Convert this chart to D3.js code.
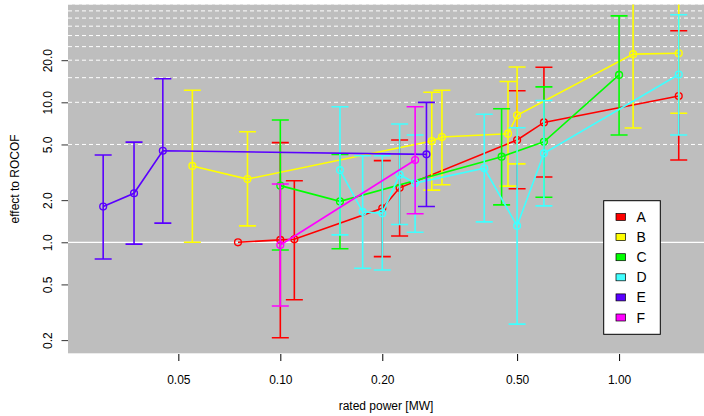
<!DOCTYPE html>
<html><head><meta charset="utf-8">
<script src="https://cdn.jsdelivr.net/npm/d3@7"></script>
<style>body{margin:0;background:#fff}svg{display:block}text{font-family:"Liberation Sans",Arial,Helvetica,sans-serif}</style>
</head><body><svg id="c" width="704" height="416"></svg>
<script>
const seriesNames = ["A","B","C","D","E","F"];
const seriesColors = ["#FF0000","#FFFF00","#00FF00","#40FFFF","#5A00FF","#FF00FF"];
// x = rated power, y = effect, lo/hi = error bar ends (null = none)
const xA = [0.075,0.10,0.11,0.20,0.225,0.50,0.60,1.50];
const yA = [1.00,1.04,1.05,1.75,2.45,5.38,7.19,11.1];
const loA = [null,0.208,0.389,0.79,1.11,2.41,2.93,3.87];
const hiA = [null,5.15,2.75,3.83,5.38,12.1,17.8,32.5];
const xB = [0.055,0.080,0.28,0.30,0.47,0.50,1.10,1.50];
const yB = [3.51,2.83,5.29,5.65,5.97,8.08,22.1,22.4];
const loB = [1.0,1.31,2.36,2.58,2.52,3.63,6.55,8.35];
const hiB = [12.2,6.17,11.8,12.2,14.1,17.9,80,80];
const xC = [0.10,0.15,0.45,0.60,1.00];
const yC = [2.54,1.96,4.09,5.23,15.7];
const loC = [0.88,0.90,1.85,2.10,5.84];
const hiC = [7.47,4.24,9.0,12.9,41.5];
const xD = [0.15,0.175,0.20,0.225,0.25,0.40,0.50,0.60,1.50];
const yD = [3.28,1.65,1.61,3.04,2.65,3.38,1.31,4.32,15.8];
const loD = [1.13,0.652,0.634,1.34,1.18,1.40,0.26,1.82,5.84];
const hiD = [9.30,4.15,4.15,7.0,5.84,8.21,6.59,10.3,42.2];
const xE = [0.030,0.037,0.045,0.27];
const yE = [1.80,2.24,4.51,4.25];
const loE = [0.76,0.97,1.37,1.80];
const hiE = [4.20,5.20,14.74,10.0];
const xF = [0.10,0.25];
const yF = [0.956,3.87];
const loF = [0.351,1.60];
const hiF = [2.61,9.30];
const xTicks = [0.05,0.10,0.20,0.50,1.00];
const yTicks = [0.2,0.5,1.0,2.0,5.0,10.0,20.0];
const gridDashed = [5,10,15,20,25,30,35,40,45,50];
const gridSolid = [1];

const seriesData = [
  [xA,yA,loA,hiA],[xB,yB,loB,hiB],[xC,yC,loC,hiC],
  [xD,yD,loD,hiD],[xE,yE,loE,hiE],[xF,yF,loF,hiF]
].map((s,i)=>({name:seriesNames[i],color:seriesColors[i],
  pts:s[0].map((x,j)=>({x,y:s[1][j],lo:s[2][j],hi:s[3][j]}))}));

const L=68,R=704,T=4.5,B=353.3;
const x = d3.scaleLog().domain([0.02362,1.781]).range([L,R]);
const y = d3.scaleLog().domain([0.161,50]).range([B,T]);
const svg = d3.select("#c");
svg.append("defs").append("clipPath").attr("id","clip")
  .append("rect").attr("x",L).attr("y",T).attr("width",R-L).attr("height",B-T);
svg.append("rect").attr("x",L).attr("y",T).attr("width",R-L).attr("height",B-T).attr("fill","#BEBEBE");

const grid = svg.append("g").attr("clip-path","url(#clip)");
grid.selectAll("line.d").data(gridDashed).join("line")
  .attr("x1",L).attr("x2",R).attr("y1",d=>y(d)).attr("y2",d=>y(d))
  .attr("stroke","#fff").attr("stroke-width",1).attr("stroke-dasharray","4,3");
grid.selectAll("line.s").data(gridSolid).join("line")
  .attr("x1",L).attr("x2",R).attr("y1",d=>y(d)).attr("y2",d=>y(d))
  .attr("stroke","#fff").attr("stroke-width",1.2);

// axes
const xAxis = d3.axisBottom(x).tickValues(xTicks).tickFormat(d3.format(".2f")).tickSize(7).tickPadding(14);
const gx = svg.append("g").attr("transform",`translate(0,${B+0.7})`).call(xAxis);
gx.select(".domain").remove();
gx.selectAll("text").attr("font-size",12).attr("fill","#000");
const yAxis = d3.axisLeft(y).tickValues(yTicks).tickFormat(d3.format(".1f")).tickSize(6.5).tickPadding(0);
const gy = svg.append("g").attr("transform",`translate(${L},0)`).call(yAxis);
gy.select(".domain").remove();
gy.selectAll("line").attr("stroke","#333");
gy.selectAll("text").attr("font-size",12).attr("fill","#000")
  .attr("text-anchor","middle").attr("dy",0).attr("x",0)
  .attr("transform","translate(-19,0) rotate(-90)").attr("dominant-baseline","middle");

svg.append("text").attr("x",(L+R)/2).attr("y",410).attr("text-anchor","middle")
  .attr("font-size",12).text("rated power [MW]");
svg.append("text").attr("transform",`translate(19,${(T+B)/2}) rotate(-90)`)
  .attr("text-anchor","middle").attr("font-size",12).text("effect to ROCOF");

const plot = svg.append("g").attr("clip-path","url(#clip)");
const line = d3.line().x(d=>x(d.x)).y(d=>y(d.y));
const cw = 8.5;
seriesData.forEach(s=>{
  const g = plot.append("g");
  const eb = s.pts.filter(p=>p.lo!=null);
  g.selectAll("line.v").data(eb).join("line")
    .attr("x1",p=>x(p.x)).attr("x2",p=>x(p.x)).attr("y1",p=>y(p.lo)).attr("y2",p=>y(p.hi))
    .attr("stroke",s.color).attr("stroke-width",1.6);
  g.selectAll("line.lo").data(eb).join("line")
    .attr("x1",p=>x(p.x)-cw).attr("x2",p=>x(p.x)+cw).attr("y1",p=>y(p.lo)).attr("y2",p=>y(p.lo))
    .attr("stroke",s.color).attr("stroke-width",1.6);
  g.selectAll("line.hi").data(eb).join("line")
    .attr("x1",p=>x(p.x)-cw).attr("x2",p=>x(p.x)+cw).attr("y1",p=>y(p.hi)).attr("y2",p=>y(p.hi))
    .attr("stroke",s.color).attr("stroke-width",1.6);
  g.append("path").datum(s.pts).attr("d",line).attr("fill","none")
    .attr("stroke",s.color).attr("stroke-width",1.6);
  g.selectAll("circle").data(s.pts).join("circle")
    .attr("cx",p=>x(p.x)).attr("cy",p=>y(p.y)).attr("r",3.4)
    .attr("fill","none").attr("stroke",s.color).attr("stroke-width",1.4);
});

// legend
const lg = svg.append("g");
lg.append("rect").attr("x",603.7).attr("y",200.7).attr("width",56.6).attr("height",133.6)
  .attr("fill","#fff").attr("stroke","#000").attr("stroke-width",1);
seriesData.forEach((s,i)=>{
  const cy = 217+i*20.1;
  lg.append("rect").attr("x",616).attr("y",cy-3.5).attr("width",9.5).attr("height",7)
    .attr("fill",s.color).attr("stroke","#000").attr("stroke-width",0.7);
  lg.append("text").attr("x",636.5).attr("y",cy).attr("dominant-baseline","central")
    .attr("font-size",14).text(s.name);
});
</script></body></html>
